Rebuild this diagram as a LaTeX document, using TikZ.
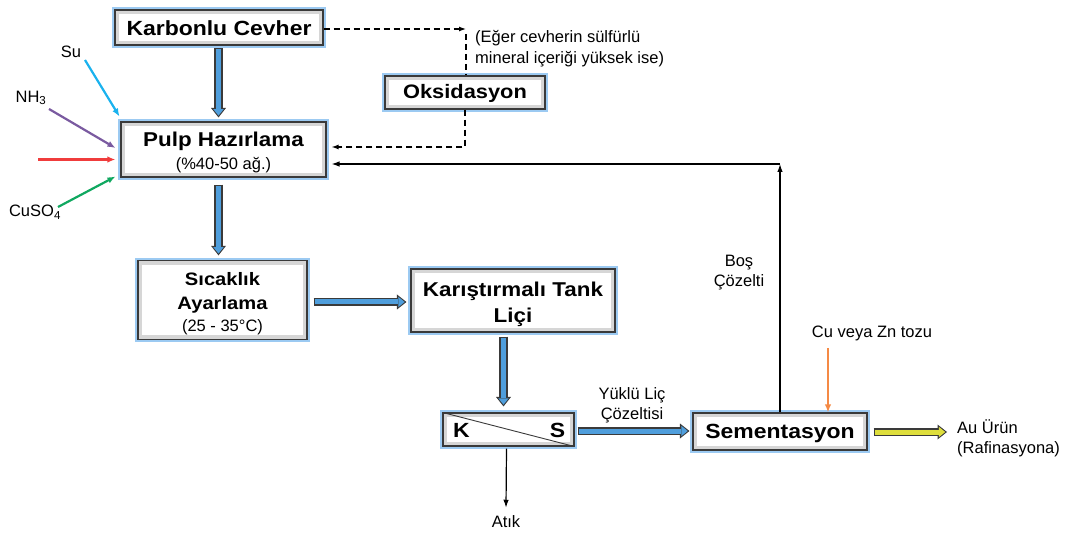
\documentclass[tikz,border=0pt]{standalone}
\usepackage{fontspec}
\setmainfont{Liberation Sans}[BoldFeatures={FakeStretch=1.12}]
\usetikzlibrary{arrows.meta,calc}
\definecolor{fatblue}{HTML}{4F9EDC}
\definecolor{fatyellow}{HTML}{DEDE3C}
\definecolor{boxline}{HTML}{3A3A3A}
\definecolor{glow}{HTML}{9CCAF2}
\definecolor{bevel}{HTML}{D6D6D6}
\definecolor{cSu}{HTML}{1AB2EE}
\definecolor{cNH}{HTML}{7A5AA0}
\definecolor{cRed}{HTML}{F03C3C}
\definecolor{cCu}{HTML}{10A860}
\definecolor{cOr}{HTML}{F58A45}
\newcommand\fatarrow[3][fatblue]{%
  \draw[fatout] #2 -- #3;
  \draw[fatin, draw=#1] #2 -- #3;}
\begin{document}
\begin{tikzpicture}[x=1pt,y=-1pt,
  box/.style={draw=boxline, line width=1.1pt, fill=bevel, inner sep=0pt, align=center,
    preaction={draw=glow, line width=5.5pt},
    path picture={\fill[white] ([shift={(4pt,-4pt)}]path picture bounding box.north west)
      rectangle ([shift={(-4pt,4pt)}]path picture bounding box.south east);}},
  fatout/.style={draw=boxline, line width=8.5pt, -{Triangle[length=9.5pt,width=15pt,line width=0pt]}},
  fatin/.style={line width=5pt, shorten >=1.8pt, shorten <=1.4pt, -{Triangle[length=6.4pt,width=10.4pt,line width=0pt]}},
  arr/.style={line width=1.2pt, -{Latex[length=8pt,width=5.5pt]}},
  col/.style={line width=2.2pt, draw=#1, -{Latex[length=8pt,width=6.5pt]}},
  dsh/.style={line width=1.2pt, dash pattern=on 6pt off 4pt},
  lbl/.style={inner sep=0pt, align=center, font=\fontsize{16.5}{20}\selectfont},
  bigb/.style={font=\fontsize{20.5}{24}\selectfont\bfseries}
]
\useasboundingbox (0,0) rectangle (1068,534);

% boxes
\node[box, bigb, minimum width=208pt, minimum height=35pt] (Karb) at (219,27.5) {\rule{0pt}{17pt}Karbonlu Cevher};
\node[box, font=\fontsize{19.5}{23}\selectfont\bfseries, minimum width=160pt, minimum height=33pt] (Oks) at (465,92.5) {\rule{0pt}{16pt}Oksidasyon};
\node[box, minimum width=205pt, minimum height=55pt] (Pulp) at (223.5,149.5)
  {\fontsize{20}{23}\selectfont\begin{tabular}{@{}c@{}}\rule{0pt}{24pt}\bfseries Pulp Hazırlama\\
   \fontsize{16.5}{20}\selectfont (\%40-50 ağ.)\end{tabular}};
\node[box, minimum width=169pt, minimum height=76pt] (Sic) at (222.5,300)
  {\fontsize{18}{24}\selectfont\begin{tabular}{@{}c@{}}\rule{0pt}{25pt}\bfseries Sıcaklık\\\bfseries Ayarlama\\[-2pt]
   \fontsize{16.5}{20}\selectfont (25 - 35°C)\end{tabular}};
\node[box, font=\fontsize{20}{26}\selectfont\bfseries, minimum width=204pt, minimum height=63pt] (Tank) at (513,300.5) {\rule{0pt}{23pt}Karıştırmalı Tank\\Liçi};
\node[box, minimum width=131pt, minimum height=33pt] (KS) at (508.5,429.5) {};
\draw[line width=0.9pt, boxline] (KS.north west) -- (KS.south east);
\node[bigb, inner sep=0pt] (K) at ([xshift=19pt,yshift=-1pt]KS.west) {K};
\node[bigb, inner sep=0pt] (S) at ([xshift=-17pt,yshift=-1pt]KS.east) {S};
\node[box, bigb, minimum width=174pt, minimum height=37pt] (Sem) at (780,431.5) {\rule{0pt}{18pt}Sementasyon};

% guide coordinates for arrow axes
\coordinate (xa) at (218.5,0);
\coordinate (xb) at (503.5,0);
\coordinate (ya) at (0,302);
\coordinate (yb) at (0,431);
\coordinate (yc) at (0,432);
\coordinate (auend) at (947,432);

% fat arrows
\fatarrow{($(Karb.south -| xa)+(0,2.5)$)}{($(Pulp.north -| xa)+(0,-4)$)}
\fatarrow{($(Pulp.south -| xa)+(0,7)$)}{($(Sic.north -| xa)+(0,-5)$)}
\fatarrow{($(Sic.east |- ya)+(6,0)$)}{($(Tank.west |- ya)+(-4,0)$)}
\fatarrow{($(Tank.south -| xb)+(0,4)$)}{($(KS.north -| xb)+(0,-6)$)}
\fatarrow{($(KS.east |- yb)+(3,0)$)}{($(Sem.west |- yb)+(-3,0)$)}
\fatarrow[fatyellow]{($(Sem.east |- yc)+(6,0)$)}{(auend)}

% dashed route through oxidation
\coordinate (d1) at (466,29);
\draw[dsh, -{Latex[length=7pt,width=5pt]}] (Karb.east |- d1) -- (d1);
\draw[dsh] ($(d1)+(0,5)$) -- (d1 |- Oks.north);
\coordinate (pd) at ($(Pulp.east)+(5,-2.5)$);
\draw[dsh, -{Latex[length=7pt,width=5pt]}] (Oks.south) |- (pd);

% return line
\coordinate (ret) at (780,164);
\coordinate (pr0) at ($(Pulp.east)+(5,0)$);
\draw[arr] (ret) -- (pr0 |- ret);
\draw[arr] (Sem.north) -- (ret);
\node[lbl] (bos) at (739,273) {Boş\\Çözelti};

% cementation powder
\node[lbl] (cu) at (872,333) {Cu veya Zn tozu};
\coordinate (cu0) at (828,348);
\draw[col=cOr] (cu0) -- (cu0 |- Sem.north);

% waste
\node[lbl] (atik) at (506,522) {Atık};
\coordinate (xw) at (506.5,0);
\draw[arr] ($(KS.south -| xw)+(0,2)$) -- ($(atik.north)+(0,-8)$);

% labels
\node[lbl] (yuk) at (632,405) {Yüklü Liç\\Çözeltisi};
\node[lbl, align=left, anchor=west, font=\fontsize{16.5}{21}\selectfont] (eger) at (475,48.5) {(Eğer cevherin sülfürlü\\mineral içeriği yüksek ise)};
\node[lbl, align=left, anchor=west] (au) at (957,438) {Au Ürün\\(Rafinasyona)};

% inputs
\node[lbl] (su) at (71,52) {Su};
\node[lbl] (nh) at (31,98) {NH\textsubscript{3}};
\node[lbl] (cuso) at (35,212) {CuSO\textsubscript{4}};
\coordinate (s0) at (85,60);
\coordinate (n0) at (49,109);
\coordinate (r0) at (38,159.5);
\coordinate (g0) at (58,207);
\draw[col=cSu] (s0) -- ($(Pulp.north west)+(-1,-5)$);
\draw[col=cNH] (n0) -- ($(Pulp.west)+(-5,-1.5)$);
\draw[col=cRed] (r0) -- ($(Pulp.west |- r0)+(-5,0)$);
\draw[col=cCu] (g0) -- ($(Pulp.south west)+(-5,-1)$);
\end{tikzpicture}
\end{document}
